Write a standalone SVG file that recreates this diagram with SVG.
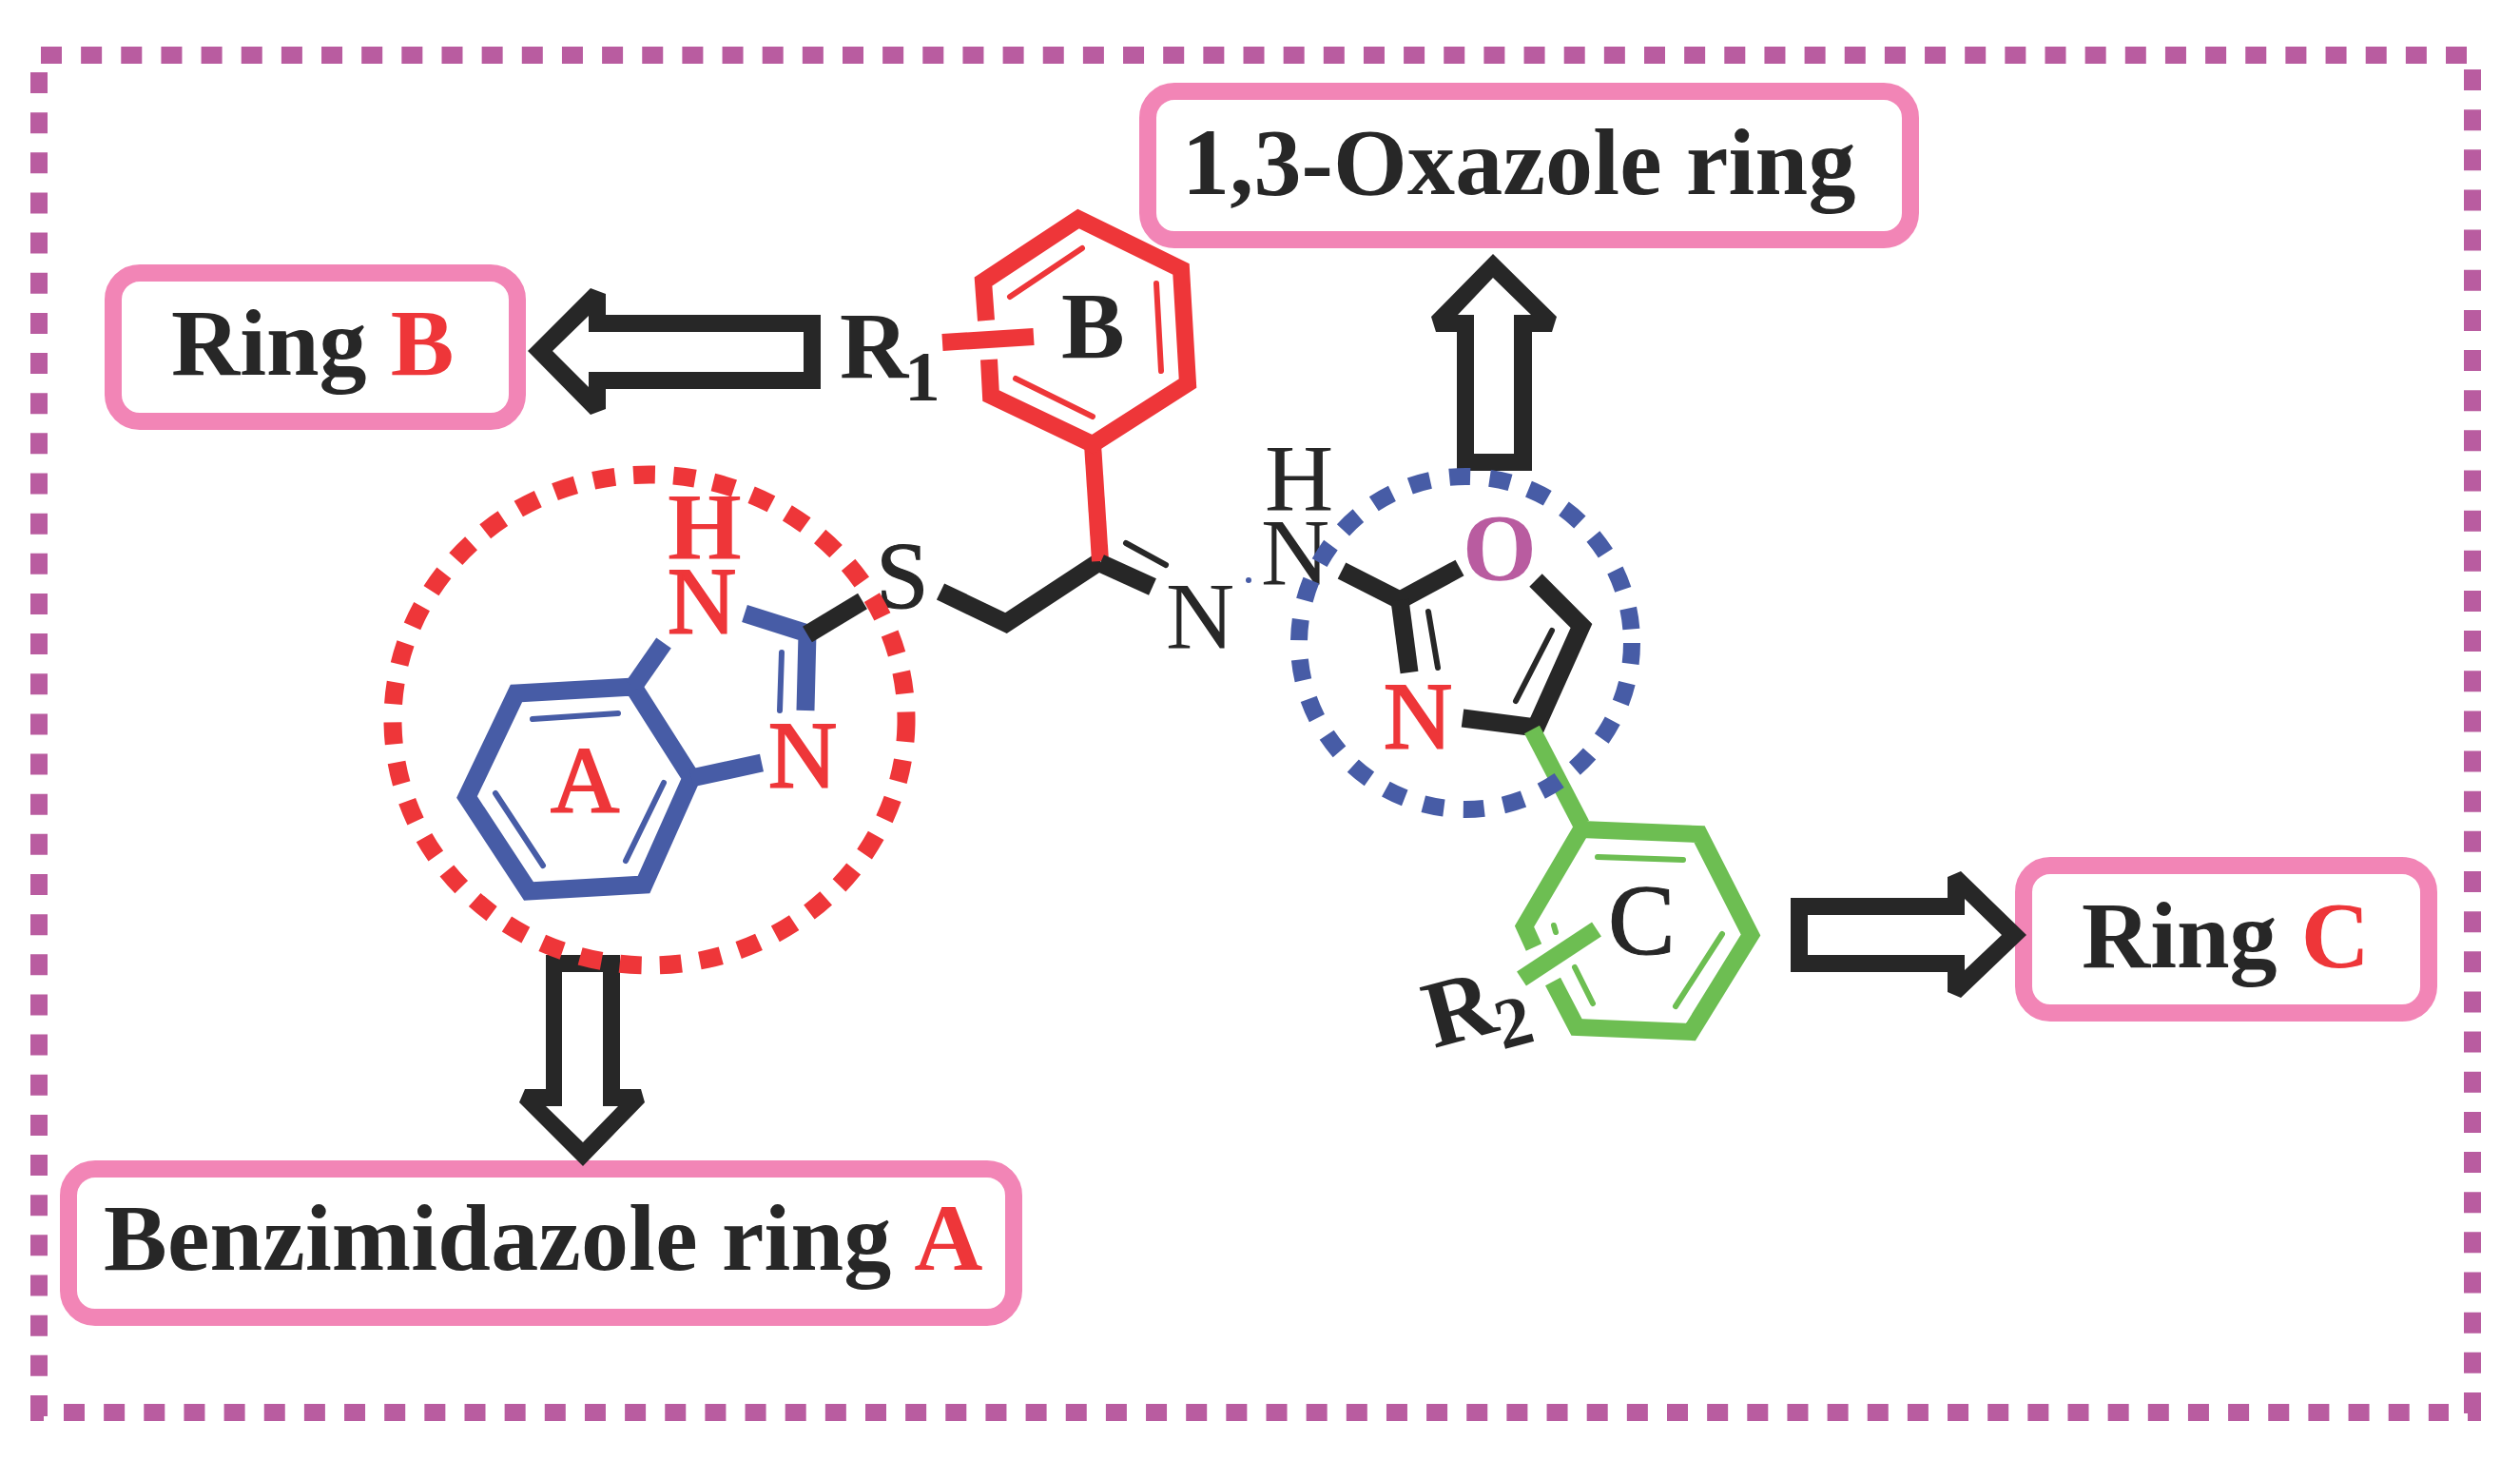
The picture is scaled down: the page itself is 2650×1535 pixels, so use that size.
<svg xmlns="http://www.w3.org/2000/svg" width="2650" height="1535" viewBox="0 0 2650 1535">
<style>
text{font-family:"Liberation Serif","Times New Roman",serif;font-size:100px;fill:#272727}
.b{font-weight:bold}
.red{fill:#ee3639}
.pur{fill:#b95ca0}
.sub{font-size:75px}
.h{stroke-width:2}
.h.red{stroke:#ee3639}
.hk{stroke:#272727;stroke-width:1.2}
.box{fill:#fff;stroke:#f285b6;stroke-width:18}
.bd{fill:none;stroke:#b95ca0;stroke-width:18;stroke-dasharray:22 20.15}
.arw{fill:#272727;fill-rule:evenodd}
.k,.bl,.r,.g{fill:none;stroke-miterlimit:6}
.k{stroke:#272727;stroke-width:19}
.bl{stroke:#475ca6;stroke-width:19}
.r{stroke:#ee3639;stroke-width:18}
.g{stroke:#6dbe52;stroke-width:18}
.t{stroke-width:6;stroke-linecap:round}
.dr{fill:none;stroke:#ee3639;stroke-width:19;stroke-dasharray:23 19.3}
.db{fill:none;stroke:#475ca6;stroke-width:18;stroke-dasharray:22 20.5}
</style>
<rect width="2650" height="1535" fill="#fff"/>
<g id="border">
<line class="bd" x1="43" y1="58" x2="2596" y2="58"/>
<line class="bd" x1="41" y1="76" x2="41" y2="1490"/>
<line class="bd" x1="2600" y1="73" x2="2600" y2="1487"/>
<line class="bd" x1="67" y1="1485" x2="2575" y2="1485"/>
<path d="M32 1484H46V1494H32ZM2595 1483H2609V1494H2595Z" fill="#b95ca0"/>
</g>
<g id="label-oxazole"><rect class="box" x="1207" y="96" width="802" height="156" rx="28"/><text class="b" x="1243" y="204" letter-spacing="0.2">1,3-Oxazole ring</text></g>
<g id="label-ring-b"><rect class="box" x="119" y="287" width="425" height="156" rx="28"/><text class="b" x="180" y="394">Ring <tspan class="red">B</tspan></text></g>
<g id="label-ring-c"><rect class="box" x="2128" y="910" width="426" height="155" rx="28"/><text class="b" x="2189" y="1017">Ring <tspan class="red">C</tspan></text></g>
<g id="label-ring-a"><rect class="box" x="72" y="1229" width="994" height="156" rx="28"/><text class="b" x="109" y="1335" letter-spacing="0.2">Benzimidazole ring <tspan class="red" dx="4">A</tspan></text></g>
<g id="connectors">
<path id="arrow-b" class="arw" d="M863 331H637V309L621 303L555 369L621 436L637 430V409H863ZM845 349V391H619V407L581 369L619 332V349Z"/>
<path id="arrow-top" class="arw" d="M1532 495H1611V349H1632L1637 333L1570 267L1505 333L1510 349H1532ZM1550 477V331H1533L1570 292L1610 331H1592V477Z"/>
<path id="arrow-a" class="arw" d="M574 1004H652V1145H674L678 1159L613 1226L546 1159L552 1145H574ZM591 1022V1163H574L613 1201L650 1163H634V1022Z"/>
<path id="arrow-c" class="arw" d="M1883 944H2048V922L2062 916L2131 983L2062 1049L2048 1043V1022H1883ZM1901 962V1004H2066V1020L2105 983L2066 945V962Z"/>
</g>
<g id="ring-a">
<polygon class="bl" points="543,729 666,722 727,818 677,930 556,937 491,838"/>
<line class="bl t" x1="560" y1="756" x2="650" y2="750"/>
<line class="bl t" x1="521" y1="834" x2="571" y2="910"/>
<line class="bl t" x1="698" y1="823" x2="658" y2="905"/>
<line class="bl" x1="666" y1="722" x2="698" y2="676"/>
<line class="bl" x1="727" y1="818" x2="801" y2="802"/>
<polyline class="bl" points="783,645 849,666 847,747"/>
<line class="bl t" x1="822" y1="686" x2="820" y2="747"/>
<text x="702" y="665" class="red h">N</text>
<text x="702" y="587" class="red b">H</text>
<text x="808" y="827" class="red h">N</text>
<text x="579" y="854" class="red h">A</text>
</g>
<g id="linker">
<line class="k" x1="849" y1="667" x2="907" y2="632"/>
<text x="921" y="638" class="hk">S</text>
<polyline class="k" points="989,622 1058,655 1157,590"/>
<line class="r" x1="1149" y1="467" x2="1157" y2="590"/>
<line class="k" x1="1157" y1="592" x2="1212" y2="617"/>
<line class="k t" x1="1184" y1="571" x2="1226" y2="594"/>
<text x="1226" y="681">N</text>
<circle cx="1313" cy="610" r="3" fill="#475ca6"/>
<text x="1330" y="536">H</text>
<text x="1326" y="614">N</text>
</g>
<g id="ring-b">
<polyline class="r" points="1037,337 1034,296 1134,230 1242,283 1249,403 1149,467 1042,416 1040,378"/>
<line class="r t" x1="1062" y1="312" x2="1138" y2="261"/>
<line class="r t" x1="1216" y1="298" x2="1221" y2="390"/>
<line class="r t" x1="1068" y1="398" x2="1149" y2="438"/>
<line class="r" x1="991" y1="360" x2="1087" y2="354"/>
<text x="1116" y="376" class="b">B</text>
<text x="883" y="397" class="b">R<tspan class="sub" dx="-4" dy="24">1</tspan></text>
</g>
<g id="oxazole">
<polyline class="k" points="1411,600 1472,631 1535,597"/>
<line class="k" x1="1472" y1="631" x2="1482" y2="707"/>
<line class="k t" x1="1502" y1="643" x2="1512" y2="702"/>
<polyline class="k" points="1615,610 1663,658 1615,765 1538,755"/>
<line class="k t" x1="1632" y1="663" x2="1594" y2="737"/>
<line class="g" x1="1611" y1="767" x2="1663" y2="867"/>
<text x="1538" y="609" class="pur b">O</text>
<text x="1455" y="786" class="red h">N</text>
</g>
<g id="ring-c">
<polyline class="g" points="1613,996 1603,974 1663,872 1787,877 1841,983 1778,1085 1658,1080 1633,1032"/>
<line class="g t" x1="1680" y1="901" x2="1770" y2="904"/>
<line class="g t" x1="1811" y1="982" x2="1762" y2="1058"/>
<line class="g t" x1="1656" y1="1017" x2="1675" y2="1055"/>
<line class="g t" x1="1634" y1="973" x2="1636" y2="980"/>
<line class="g" x1="1600" y1="1029" x2="1679" y2="977"/>
<text x="1691" y="1003" class="hk" style="font-size:106px">C</text>
<text class="b" transform="translate(1508 1102) rotate(-15)">R<tspan class="sub" dx="-3" dy="20">2</tspan></text>
</g>
<g id="highlight-a"><ellipse class="dr" cx="683" cy="757" rx="270" ry="258"/></g>
<g id="highlight-oxazole"><circle class="db" cx="1541" cy="676" r="175"/></g>
</svg>
